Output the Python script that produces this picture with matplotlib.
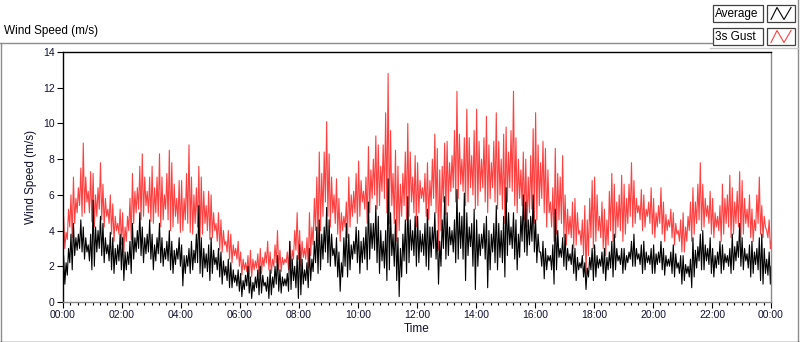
import matplotlib.pyplot as plt
from matplotlib.patches import Rectangle
from matplotlib.lines import Line2D
from matplotlib.ticker import MultipleLocator, FuncFormatter

# 3s gust (m/s): per 10-minute slot, main peak / trough and a secondary
# peak / trough, 6 slots per hour (one row = one hour)
gust_hi = [
    4.8, 6.0, 7.0, 7.5, 8.9, 7.3,
    7.2, 7.8, 6.6, 6.0, 5.5, 5.2,
    5.0, 5.8, 7.2, 7.6, 8.3, 7.0,
    7.6, 8.3, 7.0, 8.5, 7.8, 6.8,
    6.8, 8.8, 7.0, 7.6, 7.0, 6.2,
    6.0, 5.0, 4.6, 4.0, 3.8, 3.4,
    2.8, 2.6, 2.9, 2.7, 3.0, 3.4,
    2.8, 4.0, 2.9, 2.8, 3.4, 5.0,
    4.0, 3.6, 5.0, 7.0, 8.4, 10.1,
    8.3, 6.9, 5.8, 5.6, 7.0, 7.2,
    7.9, 7.0, 8.7, 9.3, 8.8, 10.6,
    12.8, 8.5, 7.6, 8.4, 10.0, 8.2,
    7.8, 7.2, 7.8, 9.4, 8.6, 8.9,
    9.0, 9.6, 11.8, 9.2, 10.8, 9.6,
    10.8, 9.2, 10.4, 9.0, 10.6, 9.4,
    9.8, 11.8, 9.2, 8.4, 8.0, 9.7,
    10.6, 9.0, 8.6, 6.4, 8.6, 8.2,
    6.0, 5.6, 5.8, 4.6, 5.4, 6.8,
    7.0, 5.6, 5.2, 7.2, 6.6, 7.1,
    6.6, 7.8, 6.8, 6.3, 6.0, 6.4,
    5.8, 6.4, 5.6, 5.2, 5.0, 4.6,
    5.0, 5.6, 6.4, 7.8, 6.6, 6.2,
    5.8, 5.4, 6.6, 7.1, 6.4, 7.3,
    6.8, 6.0, 5.2, 7.0, 5.4, 4.6,
]
gust_lo = [
    3.0, 3.6, 4.4, 4.8, 5.0, 4.5,
    4.2, 4.6, 4.2, 3.8, 3.4, 3.2,
    2.8, 3.5, 4.4, 4.6, 4.8, 4.5,
    4.4, 4.2, 4.6, 4.0, 4.2, 3.9,
    4.0, 3.9, 3.8, 3.6, 3.8, 3.5,
    3.6, 2.9, 2.8, 2.4, 2.2, 2.0,
    1.5, 1.3, 1.4, 1.5, 1.6, 1.8,
    1.6, 1.8, 1.7, 1.8, 2.0, 2.4,
    2.0, 1.9, 2.6, 3.4, 4.0, 4.8,
    4.2, 3.8, 3.4, 3.6, 4.2, 4.4,
    4.8, 4.4, 5.0, 5.2, 5.4, 5.0,
    4.4, 3.4, 4.0, 4.6, 4.8, 4.2,
    5.0, 4.8, 4.6, 5.0, 2.9, 4.9,
    5.4, 5.6, 5.8, 5.4, 5.6, 5.2,
    5.4, 5.6, 5.0, 5.6, 5.2, 4.4,
    5.6, 5.4, 5.0, 4.6, 4.2, 4.4,
    4.6, 5.0, 4.2, 3.4, 3.8, 3.6,
    3.2, 3.0, 3.2, 2.6, 1.6, 3.0,
    3.4, 3.0, 2.6, 3.4, 3.6, 3.4,
    3.8, 4.2, 4.4, 4.0, 4.2, 3.8,
    3.6, 3.8, 3.4, 3.6, 3.2, 2.8,
    2.8, 3.4, 3.8, 4.0, 4.2, 3.8,
    3.6, 3.4, 3.8, 3.6, 3.8, 3.6,
    3.8, 3.6, 3.4, 3.8, 3.6, 3.0,
]
gust_hi2 = [
    3.9, 5.2, 5.8, 6.4, 7.0, 6.2,
    6.0, 6.4, 5.8, 5.2, 4.8, 4.4,
    4.2, 4.8, 6.2, 6.4, 7.0, 6.2,
    6.4, 7.0, 6.0, 7.2, 6.6, 5.8,
    5.8, 7.2, 6.0, 6.4, 6.2, 5.4,
    5.0, 4.4, 4.0, 3.4, 3.2, 3.0,
    2.4, 2.2, 2.4, 2.3, 2.5, 2.8,
    2.4, 3.2, 2.5, 2.4, 2.9, 4.0,
    3.4, 3.0, 4.2, 5.8, 7.2, 8.4,
    7.0, 6.0, 5.0, 4.8, 6.0, 6.2,
    6.8, 6.2, 7.4, 8.0, 7.6, 8.8,
    9.6, 7.2, 6.6, 7.2, 8.4, 7.0,
    6.8, 6.4, 6.8, 8.0, 7.4, 7.6,
    7.8, 8.2, 9.4, 8.0, 9.2, 8.2,
    9.0, 8.0, 8.8, 7.8, 9.0, 8.0,
    8.4, 9.6, 8.0, 7.4, 7.0, 8.2,
    8.8, 7.8, 7.4, 5.6, 7.2, 7.0,
    5.2, 4.8, 5.0, 4.0, 4.6, 5.8,
    6.0, 4.8, 4.6, 6.2, 5.6, 6.0,
    5.8, 6.6, 5.8, 5.4, 5.2, 5.6,
    5.0, 5.4, 4.9, 4.6, 4.4, 4.0,
    4.2, 4.8, 5.6, 6.6, 5.8, 5.4,
    5.0, 4.8, 5.8, 6.0, 5.6, 6.2,
    5.8, 5.2, 4.6, 6.0, 4.8, 4.0,
]
gust_lo2 = [
    3.5, 4.2, 5.0, 5.4, 5.6, 5.0,
    4.8, 5.2, 4.8, 4.4, 4.0, 3.8,
    3.4, 4.0, 5.0, 5.2, 5.4, 5.0,
    5.0, 4.8, 5.2, 4.6, 4.8, 4.4,
    4.6, 4.4, 4.4, 4.2, 4.4, 4.0,
    4.0, 3.4, 3.2, 2.8, 2.6, 2.4,
    1.8, 1.7, 1.8, 1.9, 2.0, 2.2,
    2.0, 2.2, 2.1, 2.2, 2.4, 2.9,
    2.5, 2.4, 3.2, 4.0, 4.8, 5.6,
    5.0, 4.4, 4.0, 4.2, 4.8, 5.0,
    5.6, 5.2, 5.8, 6.0, 6.2, 5.8,
    5.4, 4.4, 4.8, 5.4, 5.6, 5.0,
    5.8, 5.6, 5.4, 5.8, 4.0, 5.6,
    6.2, 6.4, 6.6, 6.2, 6.4, 6.0,
    6.2, 6.4, 5.8, 6.4, 6.0, 5.2,
    6.4, 6.2, 5.8, 5.4, 5.0, 5.2,
    5.4, 5.8, 5.0, 4.2, 4.6, 4.4,
    3.8, 3.6, 3.8, 3.2, 2.6, 3.6,
    4.0, 3.6, 3.2, 4.0, 4.2, 4.0,
    4.4, 4.8, 5.0, 4.6, 4.8, 4.4,
    4.2, 4.4, 4.0, 4.2, 3.8, 3.4,
    3.4, 4.0, 4.4, 4.6, 4.8, 4.4,
    4.2, 4.0, 4.4, 4.2, 4.4, 4.2,
    4.4, 4.2, 4.0, 4.4, 4.2, 3.6,
]
# average wind speed (m/s), same layout
avg_hi = [
    2.6, 3.8, 4.4, 4.6, 4.2, 3.8,
    5.7, 4.8, 4.4, 3.9, 3.6, 3.8,
    3.6, 3.4, 4.4, 5.0, 4.2, 4.6,
    3.8, 4.4, 3.6, 4.0, 3.4, 3.6,
    3.2, 3.0, 3.4, 5.4, 3.6, 3.2,
    3.6, 3.0, 2.8, 2.4, 2.2, 1.8,
    1.6, 2.0, 1.4, 1.8, 2.0, 1.4,
    1.8, 2.6, 1.8, 1.6, 3.4, 2.6,
    3.2, 2.2, 3.0, 4.2, 4.6, 5.3,
    4.6, 3.6, 2.8, 4.4, 3.8, 4.2,
    4.0, 4.2, 5.6, 5.4, 4.8, 4.0,
    6.9, 4.6, 3.6, 4.6, 5.9, 4.8,
    4.8, 4.4, 5.2, 5.0, 4.0, 5.9,
    5.0, 4.6, 6.3, 6.1, 5.0, 5.2,
    4.6, 4.4, 4.8, 4.4, 5.4, 4.8,
    6.4, 5.0, 4.6, 6.0, 5.6, 6.0,
    4.6, 3.4, 3.0, 3.2, 5.2, 3.6,
    3.8, 3.2, 3.0, 2.6, 2.2, 3.0,
    3.2, 2.8, 3.0, 3.4, 3.8, 3.0,
    3.0, 3.4, 3.8, 3.2, 3.4, 3.0,
    3.2, 3.4, 3.0, 2.8, 3.2, 2.6,
    2.6, 2.4, 3.6, 3.8, 4.0, 3.6,
    3.0, 3.4, 3.2, 3.0, 3.8, 4.4,
    3.6, 3.2, 3.4, 3.6, 3.8, 2.8,
]
avg_lo = [
    1.0, 1.8, 2.6, 2.8, 2.4, 1.8,
    2.0, 2.6, 2.2, 1.8, 1.6, 1.8,
    1.2, 1.6, 2.4, 2.6, 2.2, 2.4,
    1.8, 2.2, 2.0, 1.8, 1.6, 2.0,
    0.9, 1.6, 1.8, 1.6, 1.4, 1.2,
    1.6, 1.4, 1.0, 0.8, 0.8, 0.6,
    0.3, 0.5, 0.2, 0.4, 0.5, 0.2,
    0.4, 0.6, 0.5, 0.6, 0.7, 0.2,
    0.4, 0.8, 1.2, 1.6, 1.8, 2.2,
    2.0, 1.4, 0.6, 1.4, 1.8, 2.2,
    1.6, 1.8, 2.4, 2.2, 1.6, 1.2,
    1.8, 1.2, 0.3, 1.6, 2.2, 2.0,
    2.2, 2.0, 1.8, 2.4, 1.0, 2.4,
    2.6, 2.2, 2.4, 1.2, 2.6, 0.7,
    2.0, 2.4, 0.8, 2.2, 1.8, 1.4,
    2.6, 2.4, 1.8, 2.8, 2.6, 2.8,
    2.2, 1.3, 1.8, 1.0, 1.8, 2.0,
    1.8, 1.6, 1.2, 1.4, 0.7, 1.2,
    1.4, 1.6, 1.2, 1.4, 1.8, 1.6,
    1.8, 2.0, 2.0, 1.6, 1.8, 1.6,
    1.6, 1.8, 1.5, 1.6, 1.4, 1.0,
    1.2, 0.8, 1.4, 1.8, 1.8, 1.6,
    1.4, 1.6, 1.8, 1.6, 1.8, 2.0,
    1.8, 1.4, 1.6, 1.2, 1.0, 1.0,
]
avg_hi2 = [
    2.2, 3.0, 3.6, 3.8, 3.6, 3.2,
    4.2, 4.0, 3.6, 3.2, 3.0, 3.2,
    2.8, 2.8, 3.6, 4.0, 3.6, 3.8,
    3.2, 3.6, 3.0, 3.4, 2.9, 3.0,
    2.6, 2.6, 2.9, 3.8, 3.0, 2.7,
    2.9, 2.5, 2.3, 2.0, 1.8, 1.5,
    1.2, 1.5, 1.1, 1.4, 1.5, 1.1,
    1.4, 2.0, 1.4, 1.3, 2.4, 2.0,
    2.4, 1.8, 2.4, 3.4, 3.8, 4.2,
    3.8, 3.0, 2.2, 3.6, 3.2, 3.4,
    3.4, 3.6, 4.4, 4.4, 4.0, 3.4,
    5.0, 3.8, 3.0, 3.8, 4.6, 4.0,
    4.0, 3.8, 4.2, 4.2, 3.4, 4.6,
    4.2, 4.0, 5.0, 4.8, 4.2, 4.4,
    3.8, 3.8, 4.0, 3.8, 4.4, 4.0,
    5.0, 4.2, 3.8, 4.8, 4.6, 4.8,
    3.8, 2.8, 2.6, 2.6, 4.0, 3.0,
    3.0, 2.7, 2.5, 2.2, 1.9, 2.5,
    2.6, 2.4, 2.5, 2.8, 3.0, 2.6,
    2.6, 2.8, 3.0, 2.7, 2.8, 2.6,
    2.7, 2.8, 2.6, 2.4, 2.7, 2.2,
    2.1, 2.0, 2.9, 3.1, 3.2, 3.0,
    2.6, 2.8, 2.7, 2.6, 3.1, 3.4,
    3.0, 2.7, 2.8, 3.0, 3.0, 2.4,
]
avg_lo2 = [
    1.5, 2.2, 2.9, 3.0, 2.8, 2.3,
    2.8, 3.0, 2.7, 2.3, 2.1, 2.3,
    1.8, 2.1, 2.8, 3.0, 2.7, 2.8,
    2.3, 2.7, 2.4, 2.3, 2.1, 2.4,
    1.6, 2.0, 2.2, 2.2, 1.9, 1.7,
    2.1, 1.8, 1.5, 1.2, 1.1, 0.9,
    0.7, 0.9, 0.6, 0.8, 0.9, 0.6,
    0.8, 1.0, 0.9, 0.9, 1.2, 0.8,
    1.0, 1.2, 1.7, 2.2, 2.4, 2.8,
    2.6, 2.0, 1.4, 2.0, 2.4, 2.7,
    2.2, 2.4, 3.0, 2.9, 2.3, 1.9,
    2.6, 2.0, 1.4, 2.3, 2.9, 2.6,
    2.8, 2.6, 2.5, 3.0, 2.0, 3.0,
    3.2, 2.8, 3.0, 2.4, 3.1, 2.0,
    2.6, 3.0, 1.8, 2.8, 2.5, 2.2,
    3.2, 3.0, 2.5, 3.4, 3.2, 3.4,
    2.8, 2.0, 2.3, 1.8, 2.5, 2.5,
    2.3, 2.1, 1.8, 1.9, 1.4, 1.8,
    1.9, 2.0, 1.8, 1.9, 2.3, 2.1,
    2.2, 2.4, 2.4, 2.1, 2.2, 2.1,
    2.1, 2.2, 2.0, 2.0, 1.9, 1.6,
    1.6, 1.4, 1.9, 2.3, 2.3, 2.1,
    1.9, 2.1, 2.2, 2.0, 2.3, 2.5,
    2.3, 1.9, 2.1, 1.8, 1.6, 1.5,
]
gust_start, gust_end = 3.6, 3.4
avg_start, avg_end = 1.8, 2.0

series_names = ["Average", "3s Gust"]


def trace(hi, lo, hi2, lo2, start, end):
    # time in hours; four readings inside each 10 min slot
    t, v = [0.0], [start]
    for i in range(len(hi)):
        if i % 2 == 0:
            vals = [hi[i], lo[i], hi2[i], lo2[i]]
        else:
            vals = [hi2[i], lo2[i], hi[i], lo[i]]
        for k, val in enumerate(vals):
            t.append((10 * i + 1.25 + 2.5 * k) / 60)
            v.append(val)
    t.append(24.0)
    v.append(end)
    return t, v


def main():
    plt.rcParams['font.family'] = ['Liberation Sans', 'DejaVu Sans']
    txt = '#101030'
    fig = plt.figure(figsize=(8, 3.42), dpi=100)
    W, H = 800, 342

    def fx(px):
        return px / W

    def fy(py):
        return 1 - py / H

    ax = fig.add_axes([fx(63), fy(302), fx(771) - fx(63), fy(52) - fy(302)])

    tg, vg = trace(gust_hi, gust_lo, gust_hi2, gust_lo2, gust_start, gust_end)
    ta, va = trace(avg_hi, avg_lo, avg_hi2, avg_lo2, avg_start, avg_end)
    ax.plot(tg, vg, color='#ff4040', lw=0.8)
    ax.plot(ta, va, color='black', lw=0.8)

    ax.set_xlim(0, 24)
    ax.set_ylim(0, 14)
    ax.xaxis.set_major_locator(MultipleLocator(2))
    ax.xaxis.set_minor_locator(MultipleLocator(0.25))
    ax.yaxis.set_major_locator(MultipleLocator(2))
    ax.xaxis.set_major_formatter(FuncFormatter(lambda h, p: f"{int(round(h)) % 24:02d}:00"))
    ax.tick_params(axis='both', which='major', length=4, width=0.8, labelsize=7.5,
                   labelcolor=txt, pad=2)
    ax.tick_params(axis='x', which='minor', length=2.5, width=0.8)
    ax.spines['top'].set_color('black')
    ax.spines['left'].set_color('black')
    ax.spines['bottom'].set_color('#8a8a8a')
    ax.spines['right'].set_color('#8a8a8a')
    for s in ax.spines.values():
        s.set_linewidth(1.0)
    ax.set_xlabel("Time", fontsize=8.5, color=txt, labelpad=2)
    ax.set_ylabel("Wind Speed (m/s)", fontsize=8.5, color=txt, labelpad=4)

    # panel frame and caption
    grey = '#8c8c8c'
    fig.add_artist(Line2D([fx(0), fx(712)], [fy(42.5), fy(42.5)], color=grey, lw=1))
    fig.add_artist(Line2D([fx(0.5), fx(0.5)], [fy(42.5), 0], color=grey, lw=1))
    fig.add_artist(Line2D([fx(797.5), fx(797.5)], [1, 0], color=grey, lw=1))
    fig.add_artist(Line2D([fx(710), fx(797.5)], [fy(48), fy(48)], color='#c8c8c8', lw=1))
    fig.add_artist(Line2D([fx(0), fx(800)], [fy(341.5), fy(341.5)], color='#303030', lw=1))
    fig.text(fx(4), fy(31), "Wind Speed (m/s)", fontsize=8.5, color='black',
             va='center', ha='left')

    # legend boxes with a small zigzag icon
    icons = [('black', 13.5), ('#ff4040', 36.5)]
    for name, (col, yc) in zip(series_names, icons):
        fig.add_artist(Rectangle((fx(713), fy(yc + 8.5)), fx(50), 17 / H,
                                 fill=False, edgecolor='#404040', lw=0.9))
        fig.text(fx(715), fy(yc), name, fontsize=8.5, va='center', ha='left')
        fig.add_artist(Rectangle((fx(767), fy(yc + 8.5)), fx(28), 17 / H,
                                 fill=False, edgecolor='#404040', lw=0.9))
        fig.add_artist(Line2D([fx(771), fx(777), fx(784), fx(791)],
                              [fy(yc + 6), fy(yc - 6), fy(yc + 6), fy(yc - 6)],
                              color=col, lw=0.8))

    fig.savefig("out.png", dpi=100)


if __name__ == "__main__":
    main()
